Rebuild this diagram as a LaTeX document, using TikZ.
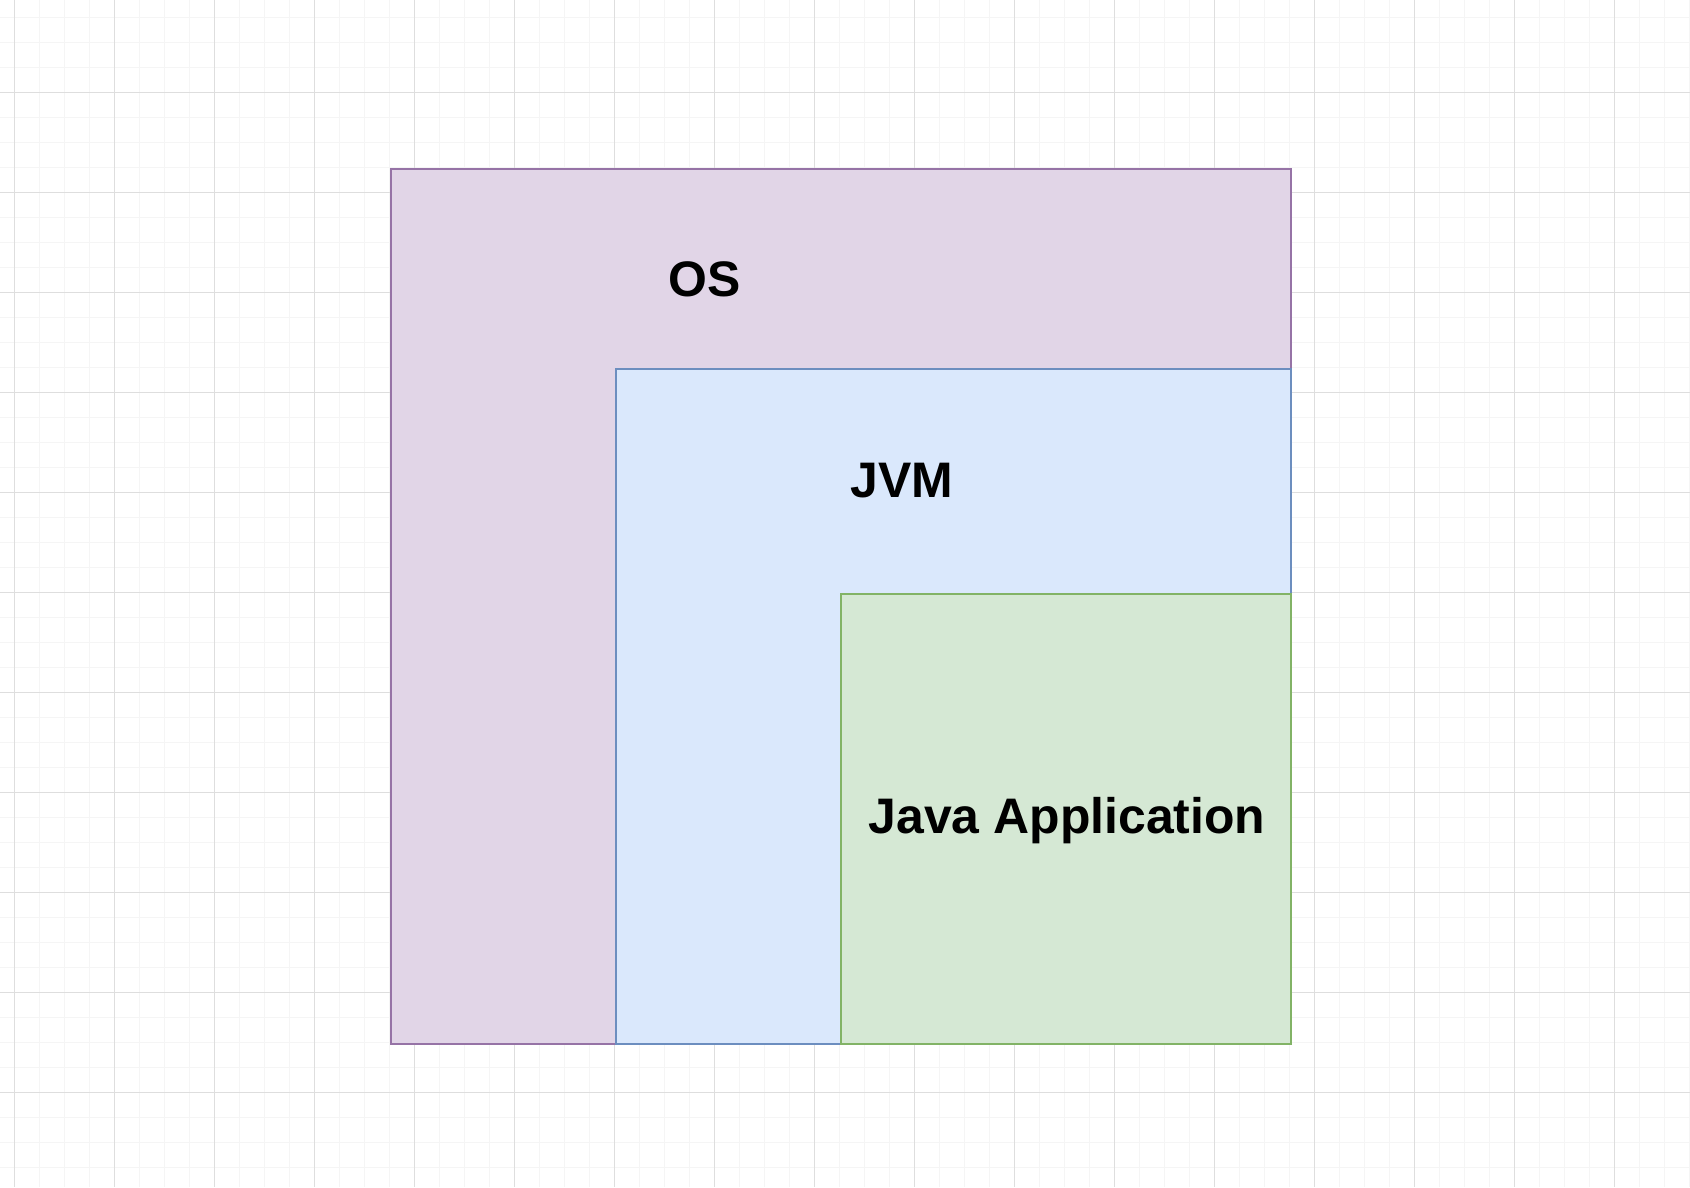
\documentclass[tikz,border=0pt]{standalone}
\usepackage{fontspec}
\setmainfont{Liberation Sans}
\usetikzlibrary{positioning}
\definecolor{osfill}{HTML}{E1D5E7}
\definecolor{osline}{HTML}{9673A6}
\definecolor{jvmfill}{HTML}{DAE8FC}
\definecolor{jvmline}{HTML}{6C8EBF}
\definecolor{appfill}{HTML}{D5E8D4}
\definecolor{appline}{HTML}{82B366}
\colorlet{gridmajor}{black!13}
\colorlet{gridminor}{black!4}
\newcommand{\LayerName}[1]{{\bfseries\fontsize{14.2pt}{17pt}\selectfont #1}}

\begin{document}
\begin{tikzpicture}[
  x=1cm, y=-1cm,
  layer/.style={rectangle, anchor=north west, inner sep=0pt, line width=0.6pt},
  layername/.style={anchor=base, inner sep=0pt, text=black},
  minorline/.style={draw=gridminor, line width=0.3pt},
  majorline/.style={draw=gridmajor, line width=0.3pt}
]

% ---------- Canvas ----------
\useasboundingbox (0,0) rectangle (16.9,11.87);
\fill[white] (0,0) rectangle (16.9,11.87);

% ---------- Background grid ----------
\foreach \k in {0,...,67} {
  \draw[minorline] ({0.145+0.25*\k},0) -- ({0.145+0.25*\k},11.87);
}
\foreach \k in {0,...,47} {
  \draw[minorline] (0,{0.173+0.25*\k}) -- (16.9,{0.173+0.25*\k});
}
\foreach \k in {0,...,16} {
  \draw[majorline] ({0.145+\k},0) -- ({0.145+\k},11.87);
}
\foreach \k in {0,...,10} {
  \draw[majorline] (0,{0.923+\k}) -- (16.9,{0.923+\k});
}

% ---------- Layers ----------
\node[layer, fill=osfill, draw=osline,
      minimum width=9cm, minimum height=8.75cm] (OS) at (3.9,1.68) {};
\node[layer, fill=jvmfill, draw=jvmline,
      minimum width=6.75cm, minimum height=6.75cm] (JVM) at (6.15,3.68) {};
\node[layer, fill=appfill, draw=appline,
      minimum width=4.5cm, minimum height=4.5cm] (App) at (8.4,5.93) {};

% ---------- Labels ----------
\node[layername] (OSname)  at (7.05,2.965) {\LayerName{OS}};
\node[layername] (JVMname) at (9.02,4.97)  {\LayerName{JVM}};
\node[layername] (Appname) at (10.67,8.333) {\LayerName{Java Application}};

\end{tikzpicture}
\end{document}
